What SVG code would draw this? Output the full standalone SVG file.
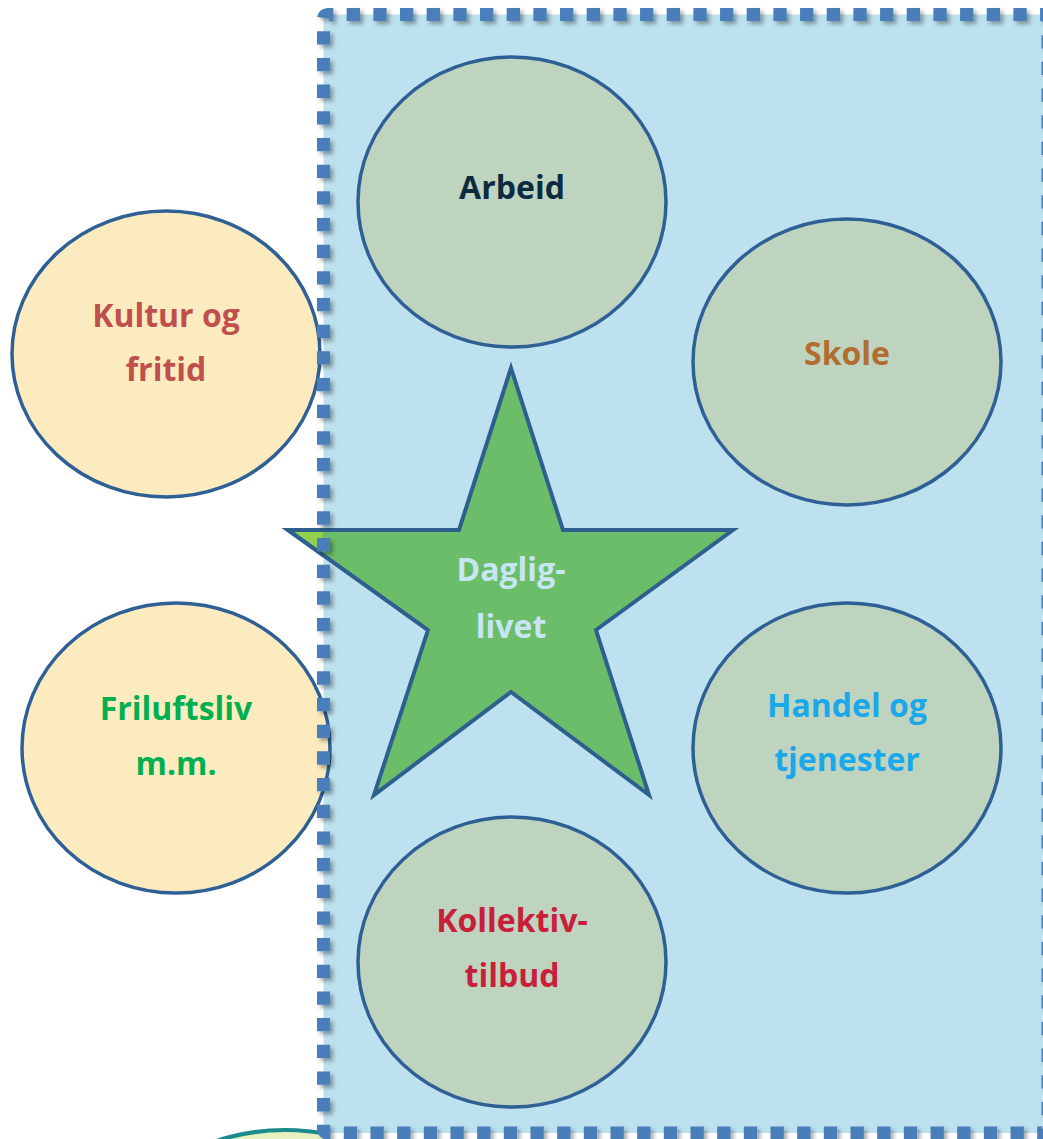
<svg xmlns="http://www.w3.org/2000/svg" width="1043" height="1139" viewBox="0 0 1043 1139">
<defs>
<style>
.node ellipse{stroke:#2e6095;stroke-width:3.5}
.g{fill:#bfd4bf}
.y{fill:#fdebc0}
text{font-family:"Open Sans","Liberation Sans",sans-serif;font-weight:bold;font-size:32px;text-anchor:middle}
</style>
<filter id="sh" x="-5%" y="-5%" width="110%" height="110%">
<feDropShadow dx="3" dy="3" stdDeviation="2" flood-color="#000" flood-opacity="0.35"/>
</filter>
<clipPath id="outL"><rect x="0" y="0" width="323" height="1139"/></clipPath>
<clipPath id="bl"><rect x="0" y="1000" width="330" height="139"/></clipPath>
<linearGradient id="blg" x1="0" y1="0" x2="0" y2="1">
<stop offset="0" stop-color="#e8f0c0"/><stop offset="1" stop-color="#c8e0a0"/>
</linearGradient>
</defs>
<rect id="area" x="323.5" y="14.5" width="724.5" height="1118.5" fill="#bde1ee"/>
<g id="partial" clip-path="url(#bl)">
<ellipse cx="285" cy="1230" rx="150" ry="100" fill="url(#blg)" stroke="#1a8a8a" stroke-width="4"/>
</g>
<g id="arbeid" class="node"><ellipse class="g" cx="512" cy="202" rx="154" ry="145"/><text x="512" y="199" fill="#0d2b40">Arbeid</text></g>
<g id="skole" class="node"><ellipse class="g" cx="847" cy="362" rx="154" ry="143"/><text x="847" y="365" fill="#b26d30">Skole</text></g>
<g id="kultur" class="node"><ellipse class="y" cx="166" cy="354" rx="154" ry="143"/><text x="166" y="327" fill="#c0504d">Kultur og</text><text x="166" y="381" fill="#c0504d">fritid</text></g>
<g id="friluftsliv" class="node"><ellipse class="y" cx="176" cy="748" rx="154" ry="145"/><text x="176" y="720" fill="#00b050">Friluftsliv</text><text x="176" y="775" fill="#00b050">m.m.</text></g>
<g id="handel" class="node"><ellipse class="g" cx="847" cy="748" rx="154" ry="145"/><text x="847" y="717" fill="#1aa8ea">Handel og</text><text x="847" y="771" fill="#1aa8ea">tjenester</text></g>
<g id="kollektiv" class="node"><ellipse class="g" cx="512" cy="962" rx="154" ry="145"/><text x="512" y="932" fill="#c8203a">Kollektiv-</text><text x="512" y="987" fill="#c8203a">tilbud</text></g>
<g id="dagliglivet">
<polygon points="511,368 563,530 733,530 596,630 649,795 511,692 374,795 428,630 288,530 459,530" fill="#6bbd69" stroke="#2e5f8f" stroke-width="4" stroke-linejoin="miter"/>
<polygon clip-path="url(#outL)" points="511,368 563,530 733,530 596,630 649,795 511,692 374,795 428,630 288,530 459,530" fill="#92d050" stroke="#2e5f8f" stroke-width="4"/>
<text x="511" y="581" fill="#c6e6f4">Daglig-</text><text x="511" y="638" fill="#c6e6f4">livet</text>
</g>
<g id="connectors"/>
<rect id="border" x="323.5" y="14.5" width="724.5" height="1118.5" rx="4" fill="none" stroke="#4a7ebb" stroke-width="13" stroke-dasharray="13.3 13.37" stroke-dashoffset="7.5" filter="url(#sh)"/>
</svg>
